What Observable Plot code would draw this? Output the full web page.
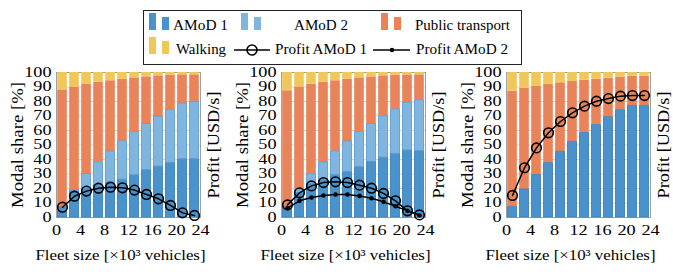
<!DOCTYPE html>
<html><head><meta charset="utf-8">
<script src="https://cdn.jsdelivr.net/npm/d3@7"></script>
<script src="https://cdn.jsdelivr.net/npm/@observablehq/plot@0.6"></script>
<style>
body{margin:0;background:#fff;}
#root{position:relative;width:673px;height:272px;overflow:hidden;font-family:"Liberation Serif",serif;}
.panel{position:absolute;top:60px;}
.panel text{font-family:"Liberation Serif","Times New Roman",serif !important;}
.panel g[aria-label="y-axis label"] text{font-size:17px;}
.panel g[aria-label="x-axis label"] text{font-size:15px;}
#legend{position:absolute;left:143px;top:10px;}
#legend text{font-family:"Liberation Serif","Times New Roman",serif;}
</style></head><body><div id="root"></div>
<script>
// Fleet size [x10^3 vehicles]
const fleet = [1, 3, 5, 7, 9, 11, 13, 15, 17, 19, 21, 23];
const xTicks = [0, 4, 8, 12, 16, 20, 24];
const yTicks = [0, 10, 20, 30, 40, 50, 60, 70, 80, 90, 100];
const modes = ["AMoD 1", "AMoD 2", "Public transport", "Walking"];
const modeColors = ["#4a92cb", "#7fb5de", "#e8835a", "#f0c75a"];
const modeStrokes = ["#3c82bf", "#5b9fd6", null, null];

// Panel 1 modal shares [%]
const p1Amod1 = [7, 18, 20, 22, 24, 26, 29, 32.5, 35, 37.5, 40, 40];
const p1Amod2 = [0, 1, 10, 16, 21.5, 26.5, 30, 32, 34.5, 36.5, 38.5, 39.5];
const p1Pt    = [81, 71, 62, 55.3, 48.8, 42.9, 37.3, 32.5, 28.2, 24.2, 19.9, 18.9];
const p1Walk  = [12, 10, 8, 6.7, 5.7, 4.6, 3.7, 3, 2.3, 1.8, 1.6, 1.6];
const p1Profit1 = [7.1, 14.7, 18.2, 20.2, 20.9, 20.5, 18.9, 15.9, 12.9, 8.3, 3.2, 1.4];

// Panel 2
const p2Amod1 = [7, 17, 23, 26, 29, 31.3, 34.6, 38.2, 41.2, 43.8, 46.1, 45.6];
const p2Amod2 = [0, 2, 6.8, 12, 16.6, 21.1, 24.2, 26.3, 28.6, 30.8, 33, 35.3];
const p2Pt    = [80.4, 71, 62.2, 55.3, 48.7, 43, 37.5, 32.5, 27.9, 23.6, 19.2, 17.5];
const p2Walk  = [12.6, 10, 8, 6.7, 5.7, 4.6, 3.7, 3, 2.3, 1.8, 1.7, 1.6];
const p2Profit1 = [8.7, 17, 21.8, 24.1, 24.6, 24.1, 22.3, 20.2, 16.6, 11.5, 4.6, 1.8];
const p2Profit2 = [6.4, 11.5, 13.8, 15.2, 15.9, 15.9, 14.9, 13.3, 10.8, 7.8, 4.6, 1.4];

// Panel 3
const p3Amod1 = [7.4, 19.3, 29.2, 37.5, 45.3, 52.2, 58.2, 63.7, 69.2, 74, 77, 77];
const p3Amod2 = [0, 0, 0, 0, 0, 0, 0, 0, 0, 0, 0, 0];
const p3Pt    = [79.7, 69.9, 61.4, 54.2, 47.6, 41.6, 36.5, 31.7, 26.9, 22.8, 20.5, 20.5];
const p3Walk  = [12.9, 10.8, 9.4, 8.3, 7.1, 6.2, 5.3, 4.6, 3.9, 3.2, 2.5, 2.5];
const p3Profit1 = [15.2, 34.3, 48, 58.4, 66.2, 72.2, 76.8, 80.2, 82, 83.7, 84.1, 84.1];

const panels = [
  {shares: [p1Amod1, p1Amod2, p1Pt, p1Walk], profit1: p1Profit1, profit2: null},
  {shares: [p2Amod1, p2Amod2, p2Pt, p2Walk], profit1: p2Profit1, profit2: p2Profit2},
  {shares: [p3Amod1, p3Amod2, p3Pt, p3Walk], profit1: p3Profit1, profit2: null}
];

const FONT = "Liberation Serif, serif";
const root = document.getElementById("root");

function stretch(t, factor, target) {
  const L = t.getComputedTextLength();
  t.setAttribute("textLength", target != null ? target : L * factor);
  t.setAttribute("lengthAdjust", "spacingAndGlyphs");
}

panels.forEach((p, k) => {
  const rows = [];
  fleet.forEach((x, i) => {
    let base = 0;
    p.shares.forEach((arr, m) => {
      const v = arr[i];
      if (v > 0) rows.push({x, m, mode: modes[m], y1: base, y2: base + v});
      base += v;
    });
  });
  const prof1 = fleet.map((x, i) => ({x, y: p.profit1[i]}));
  const prof2 = p.profit2 ? fleet.map((x, i) => ({x, y: p.profit2[i]})) : [];
  const chart = Plot.plot({
    width: 224, height: 212,
    marginLeft: 56, marginRight: 24, marginTop: 12, marginBottom: 55,
    style: {fontFamily: FONT, fontSize: "14px", color: "#000", background: "transparent", overflow: "visible"},
    x: {domain: [0, 24]},
    y: {domain: [0, 100]},
    marks: [
      Plot.ruleY(yTicks, {stroke: "#d4d4d4", strokeWidth: 1}),
      Plot.frame({stroke: "#a0a0a0", strokeWidth: 1}),
      Plot.rectY(rows, {x1: d => d.x - 1, x2: d => d.x + 1, y1: "y1", y2: "y2",
        fill: d => modeColors[d.m], insetLeft: 1.2, insetRight: 1.2}),
      Plot.rectY(rows.filter(d => modeStrokes[d.m]), {x1: d => d.x - 1, x2: d => d.x + 1, y1: "y1", y2: "y2",
        fill: "none", stroke: d => modeStrokes[d.m], strokeWidth: 0.8, insetLeft: 1.6, insetRight: 1.6}),
      Plot.line(prof2, {x: "x", y: "y", stroke: "black", strokeWidth: 1.5}),
      Plot.dot(prof2, {x: "x", y: "y", r: 2.3, fill: "black", stroke: "none"}),
      Plot.line(prof1, {x: "x", y: "y", stroke: "black", strokeWidth: 1.5}),
      Plot.dot(prof1, {x: "x", y: "y", r: 4.8, fill: "none", stroke: "black", strokeWidth: 1.6}),
      Plot.axisX({ticks: xTicks, tickSize: 0, tickPadding: 8, fontSize: 14, fontFamily: FONT,
        label: "Fleet size [×10³ vehicles]", labelAnchor: "center", labelOffset: 42, labelArrow: "none"}),
      Plot.axisY({ticks: yTicks, tickSize: 0, tickPadding: 5, fontSize: 14, fontFamily: FONT,
        label: "Modal share [%]", labelAnchor: "center", labelOffset: 46, labelArrow: "none"}),
      Plot.axisY({anchor: "right", ticks: [], tickSize: 0, fontFamily: FONT,
        label: "Profit [USD/s]", labelAnchor: "center", labelOffset: 18, labelArrow: "none"})
    ]
  });
  chart.classList.add("panel");
  chart.style.left = (k * 225) + "px";
  root.appendChild(chart);
  // widen glyphs to match the reference's horizontally stretched typography
  chart.querySelectorAll('g[aria-label="y-axis tick label"] text, g[aria-label="x-axis tick label"] text')
    .forEach(t => stretch(t, 1.3));
  const xl = chart.querySelector('g[aria-label="x-axis label"] text');
  if (xl) { stretch(xl, null, 170); xl.setAttribute("dx", -8); }
  const yl = chart.querySelectorAll('g[aria-label="y-axis label"] text');
  if (yl[0]) { stretch(yl[0], null, 126); }
  if (yl[1]) { stretch(yl[1], null, 107); }
});

// Legend (decoration)
const ns = "http://www.w3.org/2000/svg";
const lg = document.createElementNS(ns, "svg");
lg.setAttribute("id", "legend");
lg.setAttribute("width", 380); lg.setAttribute("height", 56);
lg.style.fontSize = "14px";
root.appendChild(lg);
function el(tag, attrs, text, len) {
  const e = document.createElementNS(ns, tag);
  for (const a in attrs) e.setAttribute(a, attrs[a]);
  if (text) e.textContent = text;
  lg.appendChild(e);
  if (len) { e.setAttribute("textLength", len); e.setAttribute("lengthAdjust", "spacingAndGlyphs"); }
  return e;
}
el("rect", {x: 0.5, y: 0.5, width: 378, height: 54, fill: "white", stroke: "#222", "stroke-width": 1});
function barIcon(x, yBase, color) {
  el("rect", {x: x, y: yBase - 17, width: 7, height: 17, fill: color});
  el("rect", {x: x + 13, y: yBase - 13, width: 7, height: 13, fill: color});
}
const r1 = 20, r2 = 44; // baselines
barIcon(6, r1, modeColors[0]); el("text", {x: 30, y: r1}, "AMoD 1", 55);
barIcon(98, r1, modeColors[1]); el("text", {x: 151, y: r1}, "AMoD 2", 54);
barIcon(238, r1, modeColors[2]); el("text", {x: 272, y: r1}, "Public transport", 95);
barIcon(6, r2, modeColors[3]); el("text", {x: 33, y: r2}, "Walking", 50);
el("line", {x1: 91, x2: 127, y1: r2 - 4, y2: r2 - 4, stroke: "black", "stroke-width": 1.5});
el("circle", {cx: 109, cy: r2 - 4, r: 5, fill: "none", stroke: "black", "stroke-width": 1.6});
el("text", {x: 132, y: r2}, "Profit AMoD 1", 92);
el("line", {x1: 230, x2: 267, y1: r2 - 4, y2: r2 - 4, stroke: "black", "stroke-width": 1.5});
el("circle", {cx: 249, cy: r2 - 4, r: 2.3, fill: "black"});
el("text", {x: 273, y: r2}, "Profit AMoD 2", 92);
</script>
</body></html>
